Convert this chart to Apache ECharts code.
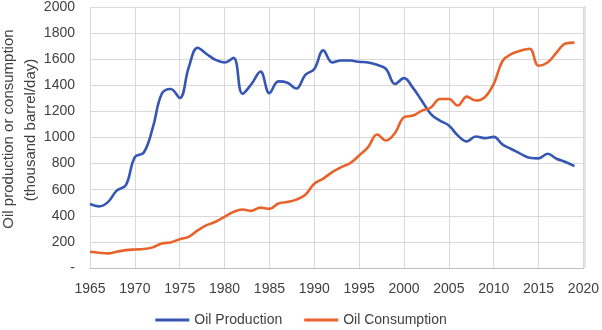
<!DOCTYPE html>
<html>
<head>
<meta charset="utf-8">
<script src="https://cdn.jsdelivr.net/npm/echarts@6/dist/echarts.min.js"></script>
<style>html,body{margin:0;padding:0;background:#fff}#c{width:602px;height:330px}</style>
</head>
<body>
<div id="c"></div>
<script>
const years = [1965,1966,1967,1968,1969,1970,1971,1972,1973,1974,1975,1976,1977,1978,1979,1980,1981,1982,1983,1984,1985,1986,1987,1988,1989,1990,1991,1992,1993,1994,1995,1996,1997,1998,1999,2000,2001,2002,2003,2004,2005,2006,2007,2008,2009,2010,2011,2012,2013,2014,2015,2016,2017,2018,2019];
const production = [490,472,505,595,635,850,885,1075,1335,1372,1303,1535,1688,1640,1595,1575,1610,1335,1410,1505,1340,1430,1420,1375,1480,1525,1668,1575,1590,1590,1580,1575,1557,1525,1410,1455,1380,1280,1180,1130,1092,1015,970,1008,995,1005,945,910,875,845,840,875,837,812,781];
const consumption = [125,117,112,125,137,142,145,158,188,196,221,239,288,328,354,392,430,448,438,463,453,494,506,524,562,646,685,735,773,804,862,926,1023,977,1035,1155,1168,1206,1230,1295,1295,1245,1313,1283,1308,1410,1588,1640,1665,1680,1550,1575,1650,1720,1727];
const seriesNames = ['Oil Production','Oil Consumption'];
const yTitle = ['Oil production or consumption','(thousand barrel/day)'];

const font = '"Liberation Sans", Arial, sans-serif';
const chart = echarts.init(document.getElementById('c'), null, {renderer:'canvas'});
const pairs = arr => years.map((y,i)=>[y,arr[i]]);
chart.setOption({
  animation:false,
  textStyle:{fontFamily:font},
  grid:{left:90,right:17,top:6,bottom:62,containLabel:false},
  legend:{
    top:308, left:'center', itemWidth:34, itemHeight:3, itemGap:22, padding:5,
    textStyle:{fontSize:14,color:'#404040',fontFamily:font},
    data:seriesNames.map(n=>({name:n,icon:'rect'}))
  },
  xAxis:{
    type:'value', min:1965, max:2020, interval:5,
    axisLine:{show:true,lineStyle:{color:'#bfbfbf'}},
    axisTick:{show:false},
    axisLabel:{fontSize:14,color:'#404040',margin:14,fontFamily:font,formatter:v=>String(v)},
    splitLine:{show:true,lineStyle:{color:'#d9d9d9',width:1}}
  },
  yAxis:{
    type:'value', min:0, max:2000, interval:200,
    axisLine:{show:false}, axisTick:{show:false},
    axisLabel:{fontSize:14,color:'#404040',margin:15,fontFamily:font,
      formatter:v=>v===0?'-':String(v)},
    splitLine:{show:true,lineStyle:{color:'#d9d9d9',width:1}}
  },
  graphic:[
    {type:'rect',shape:{x:585,y:6,width:0,height:262},style:{stroke:'#d9d9d9',lineWidth:1,fill:null}},
    {type:'text',x:9,y:129,rotation:Math.PI/2,style:{text:yTitle[0],font:'15px '+font,fill:'#404040',align:'center',verticalAlign:'middle'}},
    {type:'text',x:31,y:130,rotation:Math.PI/2,style:{text:yTitle[1],font:'15px '+font,fill:'#404040',align:'center',verticalAlign:'middle'}}
  ],
  series:[
    {name:seriesNames[0],type:'line',smooth:0.4,symbol:'none',data:pairs(production),
     lineStyle:{color:'#3656B3',width:2.6},itemStyle:{color:'#3656B3'}},
    {name:seriesNames[1],type:'line',smooth:0.4,symbol:'none',data:pairs(consumption),
     lineStyle:{color:'#E8632B',width:2.6},itemStyle:{color:'#E8632B'}}
  ]
});
</script>
</body>
</html>
